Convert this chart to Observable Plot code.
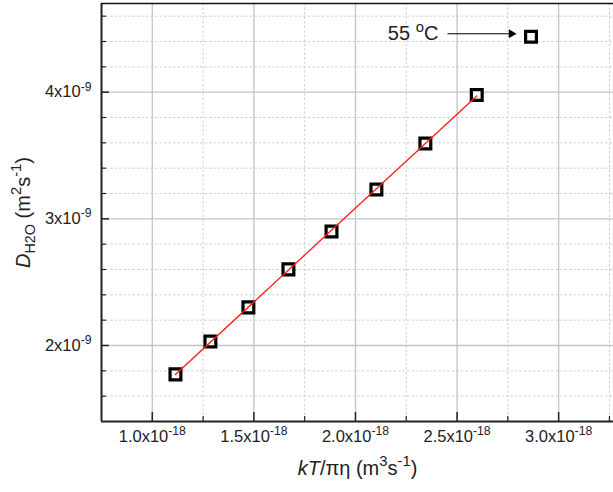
<!DOCTYPE html>
<html>
<head>
<meta charset="utf-8">
<script src="https://cdn.jsdelivr.net/npm/d3@7"></script>
<script src="https://cdn.jsdelivr.net/npm/@observablehq/plot@0.6"></script>
<style>
  html, body { margin: 0; padding: 0; background: #fff; }
  svg { display: block; }
</style>
</head>
<body>
<script>
// ---- data ----
const kTpiEta = [1.114e-18, 1.286e-18, 1.473e-18, 1.670e-18, 1.882e-18, 2.103e-18, 2.344e-18, 2.597e-18, 2.864e-18];
const dH2O    = [1.772e-9, 2.032e-9, 2.301e-9, 2.601e-9, 2.900e-9, 3.232e-9, 3.595e-9, 3.978e-9, 4.438e-9];
const inFit   = [true, true, true, true, true, true, true, true, false];

const xDomain = [0.75e-18, 3.27e-18];
const yDomain = [1.4e-9, 4.7e-9];
const xMajorTicks = [1.0e-18, 1.5e-18, 2.0e-18, 2.5e-18, 3.0e-18];
const xTickLabels = ["1.0x10^{-18}", "1.5x10^{-18}", "2.0x10^{-18}", "2.5x10^{-18}", "3.0x10^{-18}"];
const xMinorTicks = [1.25e-18, 1.75e-18, 2.25e-18, 2.75e-18, 3.25e-18];
const yMajorTicks = [2e-9, 3e-9, 4e-9];
const yTickLabels = ["2x10^{-9}", "3x10^{-9}", "4x10^{-9}"];
const yMinorTicks = [1.6e-9, 1.8e-9, 2.2e-9, 2.4e-9, 2.6e-9, 2.8e-9, 3.2e-9, 3.4e-9, 3.6e-9, 3.8e-9, 4.2e-9, 4.4e-9, 4.6e-9];

const xTitle = "*kT*/πη (m^{3}s^{-1})";
const yTitle = "*D*_{H2O} (m^{2}s^{-1})";

const annLabel = ["55 ^{o}C"];
const annTextX = [2.408e-18];
const annArrowFrom = [2.453e-18];
const annArrowTo = [2.787e-18];
const annY = [4.461e-9];

// ---- tables ----
const points = kTpiEta.map((x, i) => ({x, y: dH2O[i], fit: inFit[i]}));
const fitPoints = points.filter(d => d.fit);
const annotations = annLabel.map((label, i) => ({label, tx: annTextX[i], x1: annArrowFrom[i], x2: annArrowTo[i], y: annY[i]}));

const W = 613, H = 492, mL = 101, mR = 0, mT = 3, mB = 71;
const plotW = W - mL - mR, plotH = H - mT - mB;
const xLabelMap = new Map(xMajorTicks.map((t, i) => [t, xTickLabels[i]]));
const yLabelMap = new Map(yMajorTicks.map((t, i) => [t, yTickLabels[i]]));

const chart = Plot.plot({
  width: W, height: H,
  marginLeft: mL, marginRight: mR, marginTop: mT, marginBottom: mB,
  style: {fontFamily: "'Liberation Sans', Arial, sans-serif", fontSize: "16px", color: "#222", background: "#fff"},
  x: {domain: xDomain},
  y: {domain: yDomain},
  marks: [
    // minor grid (dotted)
    Plot.ruleX(xMinorTicks, {x: d => d, stroke: "#cfcfcf", strokeWidth: 1, strokeDasharray: "2.5,2"}),
    Plot.ruleY(yMinorTicks, {y: d => d, stroke: "#cfcfcf", strokeWidth: 1, strokeDasharray: "2.5,2"}),
    // major grid
    Plot.ruleX(xMajorTicks, {x: d => d, stroke: "#c4c4c4", strokeWidth: 1.3}),
    Plot.ruleY(yMajorTicks, {y: d => d, stroke: "#c4c4c4", strokeWidth: 1.3}),
    // inward ticks
    Plot.ruleX(xMajorTicks, {x: d => d, insetTop: plotH - 9, stroke: "#222", strokeWidth: 1.5}),
    Plot.ruleX(xMinorTicks, {x: d => d, insetTop: plotH - 5, stroke: "#222", strokeWidth: 1.2}),
    Plot.ruleY(yMajorTicks, {y: d => d, insetRight: plotW - 8, stroke: "#222", strokeWidth: 1.5}),
    Plot.ruleY(yMinorTicks, {y: d => d, insetRight: plotW - 5, stroke: "#222", strokeWidth: 1.2}),
    // axes lines
    Plot.ruleX([xDomain[0]], {stroke: "#222", strokeWidth: 2}),
    Plot.ruleY([yDomain[0]], {stroke: "#222", strokeWidth: 2}),
    Plot.ruleY([yDomain[1]], {stroke: "#111", strokeWidth: 1.6}),
    // tick labels
    Plot.axisX(xMajorTicks, {tickSize: 0, tickPadding: 9, tickFormat: d => xLabelMap.get(d), fontSize: 16.5, label: null}),
    Plot.axisY(yMajorTicks, {tickSize: 0, tickPadding: 10, tickFormat: d => yLabelMap.get(d), fontSize: 16.5, label: null}),
    // axis titles
    Plot.text([xTitle], {frameAnchor: "bottom", dy: 53, lineAnchor: "bottom", textAnchor: "middle", fontSize: 20, fill: "#222"}),
    Plot.text([yTitle], {frameAnchor: "left", dx: -72, dy: 0, lineAnchor: "bottom", textAnchor: "middle", rotate: -90, fontSize: 20, fill: "#222"}),
    // data
    Plot.dot(points, {x: "x", y: "y", symbol: "square", r: 6.1, stroke: "#000", strokeWidth: 3.2, fill: "#fff"}),
    Plot.linearRegressionY(fitPoints, {x: "x", y: "y", stroke: "#ff1a1a", strokeWidth: 1.3, ci: 0}),
    // annotation
    Plot.link(annotations, {x1: "x1", x2: "x2", y1: "y", y2: "y", stroke: "#000", strokeWidth: 1}),
    Plot.dot(annotations, {x: "x2", y: "y", dx: -4, symbol: "triangle", rotate: 90, r: 3.3, fill: "#000", stroke: "none"}),
    Plot.text(annotations, {x: "tx", y: "y", text: "label", textAnchor: "end", fontSize: 20, fill: "#222"})
  ]
});
document.body.append(chart);

// rich text: ^{sup}, _{sub}, *italic*
const NS = "http://www.w3.org/2000/svg";
function richify(el) {
  const src = el.textContent;
  if (!/[\^_*]/.test(src)) return;
  const fs = parseFloat(getComputedStyle(el).fontSize) || 16;
  el.textContent = "";
  const re = /\^\{([^}]*)\}|_\{([^}]*)\}|\*([^*]*)\*|([^\^_*]+)/g;
  let m, shift = 0;
  while ((m = re.exec(src))) {
    const t = document.createElementNS(NS, "tspan");
    let target = 0;
    if (m[1] != null) { t.textContent = m[1]; t.setAttribute("font-size", (fs * 0.74).toFixed(1)); target = -fs * 0.42; }
    else if (m[2] != null) { t.textContent = m[2]; t.setAttribute("font-size", (fs * 0.72).toFixed(1)); target = fs * 0.25; }
    else if (m[3] != null) { t.textContent = m[3]; t.setAttribute("font-style", "italic"); }
    else { t.textContent = m[4]; }
    const dy = target - shift;
    if (Math.abs(dy) > 1e-6) t.setAttribute("dy", dy.toFixed(2));
    shift = target;
    el.append(t);
  }
}
chart.querySelectorAll("text").forEach(richify);
</script>
</body>
</html>
